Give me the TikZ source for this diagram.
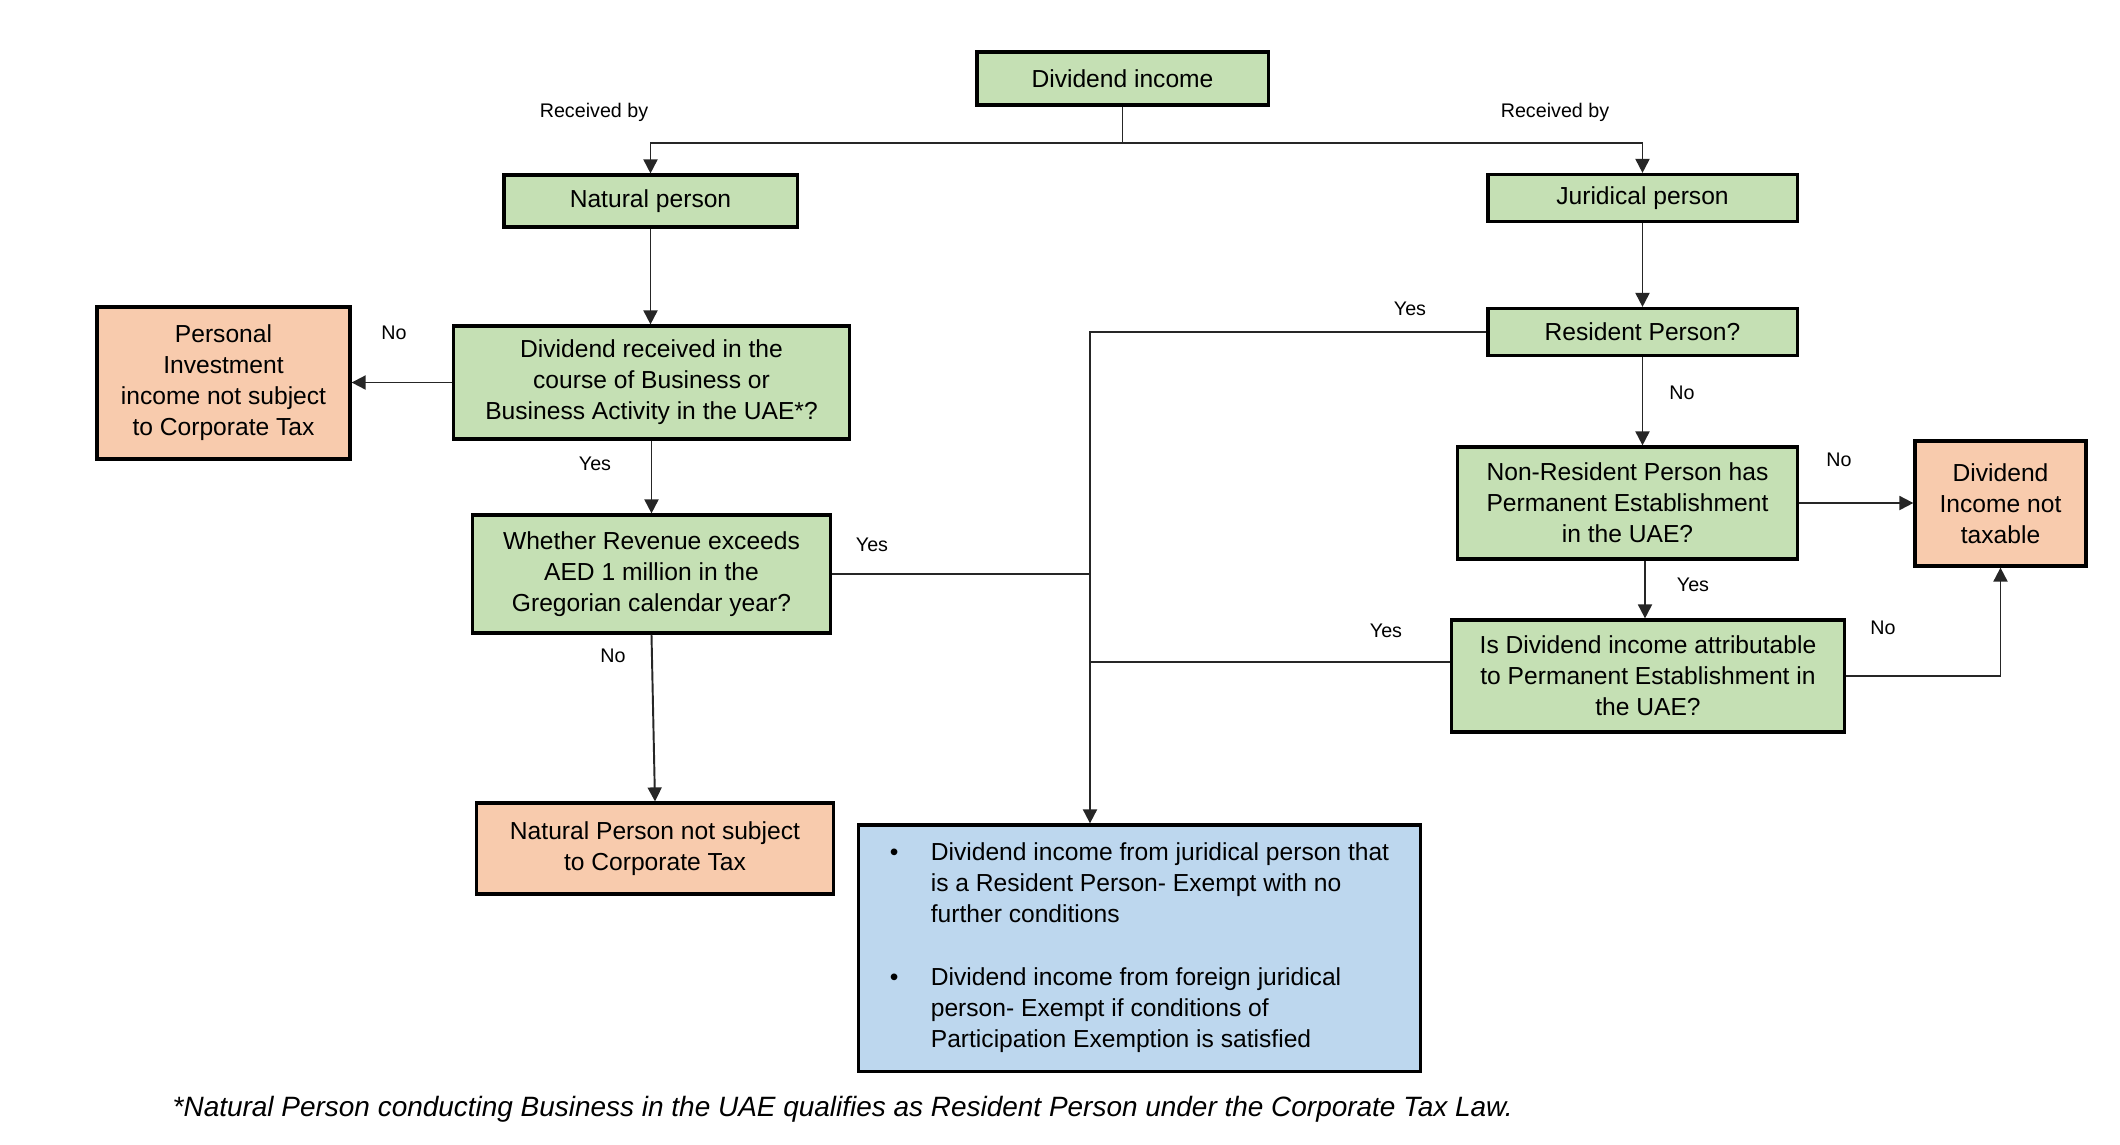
\documentclass[tikz,border=0pt]{standalone}
\usepackage{fontspec}
\setmainfont{Liberation Sans}
\usetikzlibrary{arrows.meta}
\definecolor{boxgreen}{HTML}{C5E0B4}
\definecolor{boxorange}{HTML}{F8CBAD}
\definecolor{boxblue}{HTML}{BDD7EE}

\begin{document}
\begin{tikzpicture}[x=0.01cm, y=-0.01cm,
	box/.style={draw=black, line width=0.9pt, inner sep=0pt, align=center, font=\fontsize{7}{8.8}\selectfont},
	greenbox/.style={box, fill=boxgreen},
	orangebox/.style={box, fill=boxorange},
	bluebox/.style={box, fill=boxblue},
	link/.style={draw=black!85, line width=0.55pt},
	arrow/.style={link, -{Triangle[length=0.14cm, width=0.14cm]}},
	tag/.style={inner sep=0pt, font=\fontsize{5.6}{6.7}\selectfont}]
	\fill[white] (0,0) rectangle (2120,1144);
	\useasboundingbox (0,0) rectangle (2120,1144);

	\node[greenbox, minimum width=2.91cm, minimum height=0.53cm] (income) at (1122.5,78.5) {Dividend income};
	\node[greenbox, minimum width=2.93cm, minimum height=0.52cm] (natural) at (650.5,201) {Natural person};
	\node[greenbox, minimum width=3.09cm, minimum height=0.47cm] (juridical) at (1642.5,198) {Juridical person};
	\node[greenbox, minimum width=3.95cm, minimum height=1.13cm] (business) at (651.5,382.5) {Dividend received in the\\course of Business or\\Business Activity in the UAE*?};
	\node[orangebox, minimum width=2.53cm, minimum height=1.52cm] (personal) at (223.5,383) {Personal\\Investment\\income not subject\\to Corporate Tax};
	\node[greenbox, minimum width=3.57cm, minimum height=1.18cm] (revenue) at (651.5,574) {Whether Revenue exceeds\\AED 1 million in the\\Gregorian calendar year?};
	\node[orangebox, minimum width=3.56cm, minimum height=0.91cm] (natnot) at (655,848.5) {Natural Person not subject\\to Corporate Tax};
	\node[greenbox, minimum width=3.09cm, minimum height=0.47cm] (resident) at (1642.5,332) {Resident Person?};
	\node[greenbox, minimum width=3.39cm, minimum height=1.12cm] (nonres) at (1627.5,503) {Non-Resident Person has\\Permanent Establishment\\in the UAE?};
	\node[orangebox, minimum width=1.71cm, minimum height=1.25cm] (notax) at (2000.5,503.5) {Dividend\\Income not\\taxable};
	\node[greenbox, minimum width=3.92cm, minimum height=1.12cm] (attrib) at (1648,676) {Is Dividend income attributable\\to Permanent Establishment in\\the UAE?};
	\node[bluebox, minimum width=5.61cm, minimum height=2.46cm] (exempt) at (1139.5,948) {\begin{tabular}{@{}p{0.41cm}@{}l@{}}
		\textbullet & Dividend income from juridical person that\\
		 & is a Resident Person- Exempt with no\\
		 & further conditions\\[0.32cm]
		\textbullet & Dividend income from foreign juridical\\
		 & person- Exempt if conditions of\\
		 & Participation Exemption is satisfied
	\end{tabular}};

	\coordinate (bend) at (1090,332);

	\draw[arrow] (income.south) -- ++(0,36) -| (natural.north);
	\draw[arrow] (income.south) -- ++(0,36) -| (juridical.north);
	\draw[arrow] (natural.south) -- (natural.south |- business.north);
	\draw[arrow] (business.west) -- (business.west -| personal.east);
	\draw[arrow] (business.south) -- (business.south |- revenue.north);
	\draw[arrow] (revenue.south) -- (natnot.north);
	\draw[arrow] (juridical.south) -- (resident.north);
	\draw[arrow] (resident.south) -- (resident.south |- nonres.north);
	\draw[arrow] (nonres.east) -- (nonres.east -| notax.west);
	\draw[arrow] ([xshift=0.175cm]nonres.south) -- ([xshift=0.175cm]nonres.south |- attrib.north);
	\draw[arrow] (attrib.east) -| (notax.south);
	\draw[arrow] (resident.west) -- (bend) -- (bend |- exempt.north);
	\draw[link] (revenue.east) -- (revenue.east -| bend);
	\draw[link] ([yshift=0.14cm]attrib.west) -- ([yshift=0.14cm]attrib.west -| bend);

	\node[tag] (recleft) at (594,112) {Received by};
	\node[tag] (recright) at (1555,112) {Received by};
	\node[tag] (nobusiness) at (394,333) {No};
	\node[tag] (yesbusiness) at (595,464) {Yes};
	\node[tag] (yesrevenue) at (872,545) {Yes};
	\node[tag] (norevenue) at (613,656) {No};
	\node[tag] (yesresident) at (1410,309) {Yes};
	\node[tag] (noresident) at (1682,393) {No};
	\node[tag] (nononres) at (1839,460) {No};
	\node[tag] (yesnonres) at (1693,585) {Yes};
	\node[tag] (yesattrib) at (1386,631) {Yes};
	\node[tag] (noattrib) at (1883,628) {No};

	\node[anchor=west, inner sep=0pt, font=\fontsize{7.95}{9.6}\selectfont\itshape] (footnote) at (172,1109) {*Natural Person conducting Business in the UAE qualifies as Resident Person under the Corporate Tax Law.};
\end{tikzpicture}
\end{document}
